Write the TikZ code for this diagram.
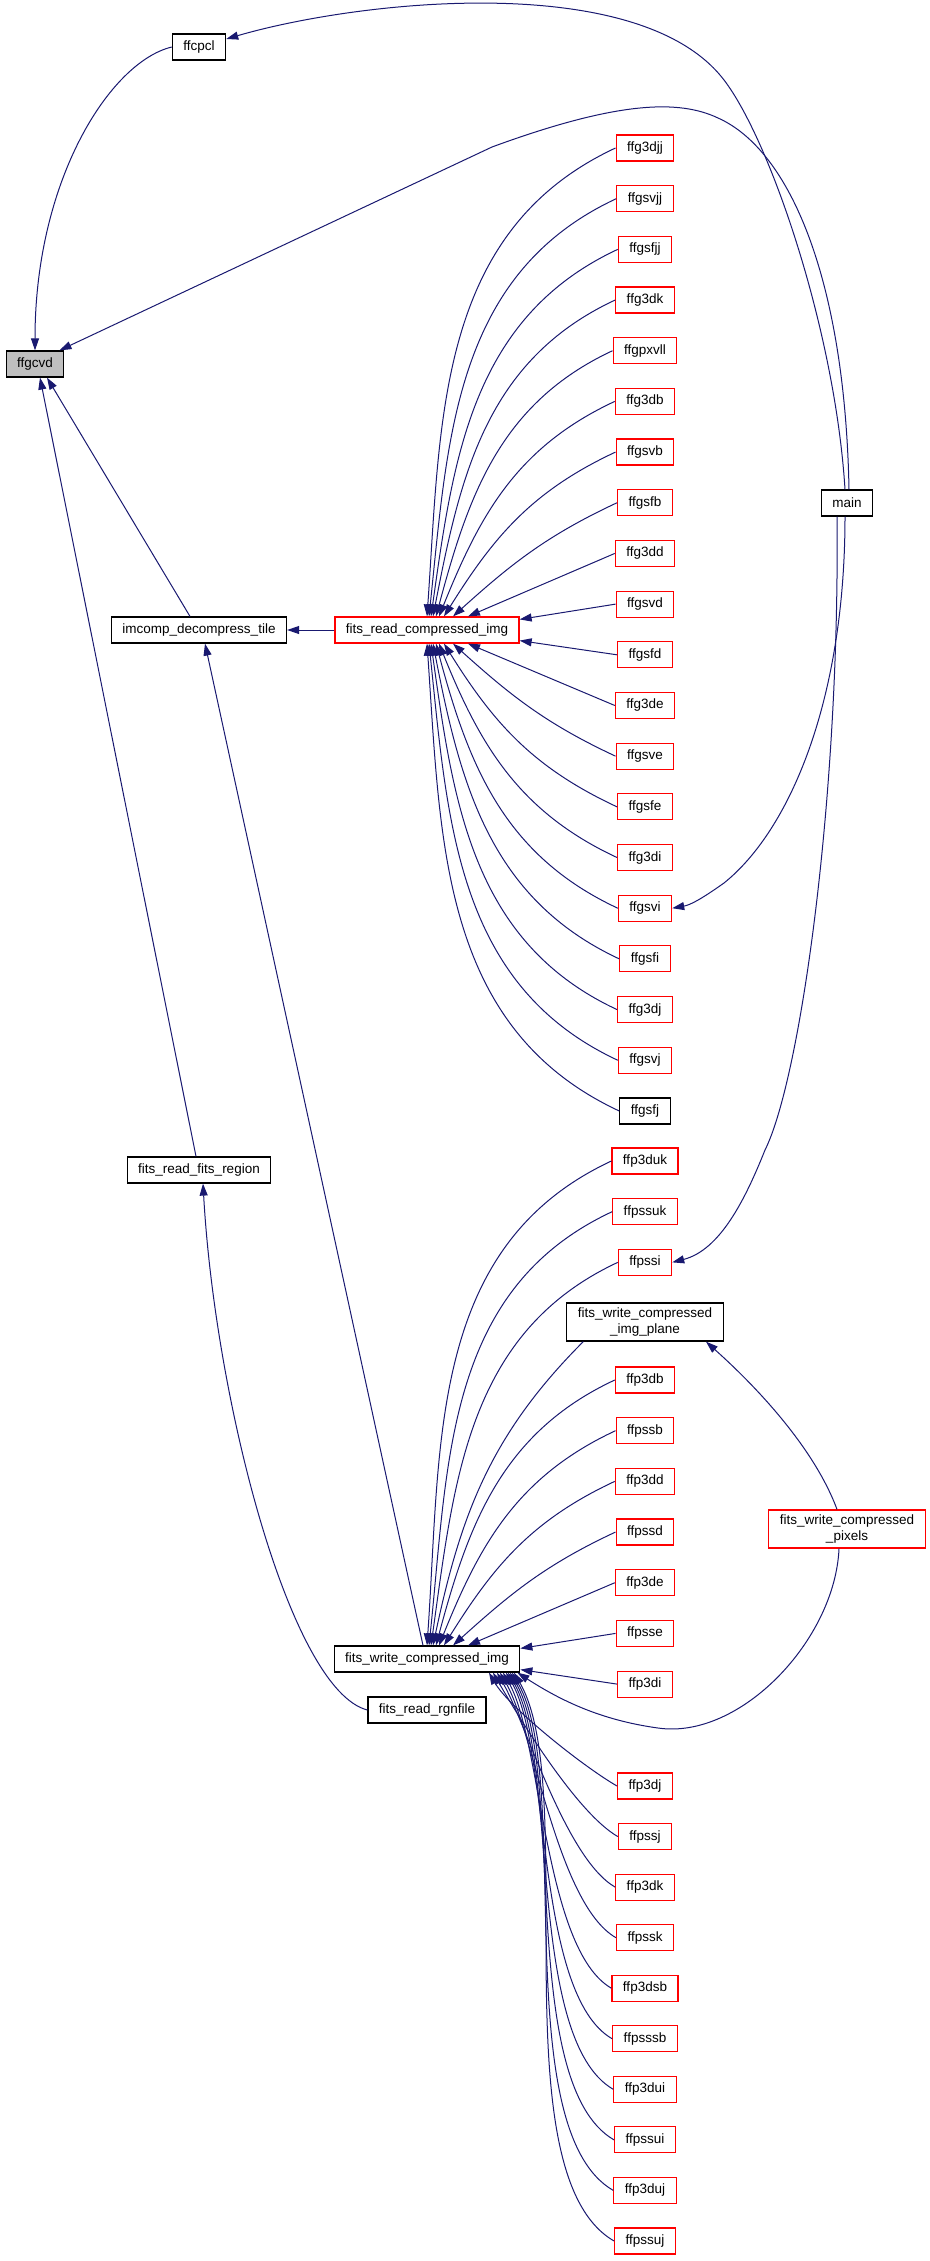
\documentclass[tikz,border=0pt]{standalone}
\usepackage{fontspec}
\setmainfont{Liberation Sans}
\usetikzlibrary{arrows.meta}
\definecolor{edgeblue}{HTML}{191970}

\begin{document}
\begin{tikzpicture}[x = 1pt, y = 1pt,
    fn/.style = {shape = rectangle, draw, line width = 1.2pt, fill = white, inner xsep = 11pt, inner ysep = 5pt,
        minimum height = 26pt, align = center, font = \fontsize{13.5}{15.5}\selectfont},
    fnred/.style = {fn, draw = red},
    call/.style = {draw = edgeblue, line width = 1pt, -{Triangle[length = 12pt, width = 8pt]}}]
    \useasboundingbox (0,0) rectangle (929,-2261);

    \node [fn, fill = gray!50] (ffgcvd) at (35,-364) {ffgcvd};
    \node [fn] (ffcpcl) at (199,-47) {ffcpcl};
    \node [fn] (main) at (847,-503) {main};
    \node [fn] (decomptile) at (199,-630) {imcomp\_decompress\_tile};
    \node [fnred] (readimg) at (427,-630) {fits\_read\_compressed\_img};
    \node [fn] (readregion) at (199,-1170) {fits\_read\_fits\_region};
    \node [fn] (writeimg) at (427,-1659) {fits\_write\_compressed\_img};
    \node [fn] (rgnfile) at (427,-1710) {fits\_read\_rgnfile};
    \node [fn] (imgplane) at (645,-1322) {fits\_write\_compressed\\\_img\_plane};
    \node [fnred] (pixels) at (847,-1529) {fits\_write\_compressed\\\_pixels};

    \foreach \nm [count = \i from 0] in {ffg3djj,ffgsvjj,ffgsfjj,ffg3dk,ffgpxvll,ffg3db,ffgsvb,ffgsfb,ffg3dd,ffgsvd,
            ffgsfd,ffg3de,ffgsve,ffgsfe,ffg3di,ffgsvi,ffgsfi,ffg3dj,ffgsvj}
        \node [fnred] (\nm) at (645,{-148-50.68*\i}) {\nm};
    \node [fn] (ffgsfj) at (645,-1111) {ffgsfj};
    \foreach \nm [count = \i from 0] in {ffp3duk,ffpssuk,ffpssi}
        \node [fnred] (\nm) at (645,{-1161-50.68*\i}) {\nm};
    \foreach \nm [count = \i from 0] in {ffp3db,ffpssb,ffp3dd,ffpssd,ffp3de,ffpsse,ffp3di}
        \node [fnred] (\nm) at (645,{-1380-50.68*\i}) {\nm};
    \foreach \nm [count = \i from 0] in {ffp3dj,ffpssj,ffp3dk,ffpssk,ffp3dsb,ffpsssb,ffp3dui,ffpssui,ffp3duj,ffpssuj}
        \node [fnred] (\nm) at (645,{-1786-50.55*\i}) {\nm};

    \draw [call] (ffcpcl.west) .. controls (110,-62) and (35,-180) .. (ffgcvd.north);
    \draw [call] ([xshift=-2]main.north) .. controls (835,-330) and (770,-140) .. (724,-80)
        .. controls (640,30) and (360,0) .. ([yshift=8]ffcpcl.east);
    \draw [call] ([xshift=2]main.north) .. controls (845,-280) and (790,-150) .. (718,-118)
        .. controls (680,-100) and (620,-100) .. (492,-147) -- ([xshift=-5]ffgcvd.north east);
    \draw [call] ([xshift=-9]decomptile.north) -- ([xshift=12]ffgcvd.south);
    \draw [call] ([xshift=-3]readregion.north) -- ([xshift=5]ffgcvd.south);
    \draw [call] (readimg.west) -- (decomptile.east);
    \draw [call] ([xshift=-4]writeimg.north) -- ([xshift=6]decomptile.south);
    \draw [call] (rgnfile.west) .. controls (290,-1690) and (215,-1400) .. ([xshift=4]readregion.south);

    \foreach \nm/\dx/\ang in {ffg3djj/0/86,ffgsvjj/2/84,ffgsfjj/4/82,ffg3dk/6/79,ffgpxvll/9/75,ffg3db/12/68,
            ffgsvb/17/58,ffgsfb/26/42}
        \draw [call] (\nm.west) to[out=205, in=\ang] ([xshift=\dx]readimg.north);
    \draw [call] (ffg3dd.west) -- ([xshift=41]readimg.north);
    \draw [call] (ffgsvd.west) -- ([yshift=-3]readimg.north east);
    \draw [call] (ffgsfd.west) -- ([yshift=3]readimg.south east);
    \draw [call] (ffg3de.west) -- ([xshift=41]readimg.south);
    \foreach \nm/\dx/\ang in {ffgsve/26/-42,ffgsfe/17/-58,ffg3di/12/-68,ffgsvi/9/-75,ffgsfi/6/-79,ffg3dj/4/-82,
            ffgsvj/2/-84,ffgsfj/0/-86}
        \draw [call] (\nm.west) to[out=155, in=\ang] ([xshift=\dx]readimg.south);

    \foreach \nm/\dx/\ang in {ffp3duk/0/86,ffpssuk/2/84,ffpssi/4/82}
        \draw [call] (\nm.west) to[out=205, in=\ang] ([xshift=\dx]writeimg.north);
    \draw [call] ([xshift=17]imgplane.south west) to[out=225, in=78] ([xshift=6]writeimg.north);
    \foreach \nm/\dx/\ang in {ffp3db/9/75,ffpssb/12/68,ffp3dd/17/58,ffpssd/26/42}
        \draw [call] (\nm.west) to[out=205, in=\ang] ([xshift=\dx]writeimg.north);
    \draw [call] (ffp3de.west) -- ([xshift=41]writeimg.north);
    \draw [call] (ffpsse.west) -- ([yshift=-3]writeimg.north east);
    \draw [call] (ffp3di.west) -- ([yshift=3]writeimg.south east);
    \foreach \nm/\dx in {ffp3dj/62,ffpssj/66,ffp3dk/70,ffpssk/73,ffp3dsb/76,ffpsssb/79,ffp3dui/81,ffpssui/83,
            ffp3duj/85,ffpssuj/87}
        \draw [call] (\nm.west) to[out=150, in=-60, looseness=0.6] ([xshift=\dx]writeimg.south);
    \draw [call] ([xshift=-8]pixels.south) .. controls (835,-1640) and (740,-1740) .. (658,-1728)
        .. controls (600,-1720) and (560,-1700) .. ([xshift=-3]writeimg.south east);
    \draw [call] ([xshift=-10]pixels.north) .. controls (815,-1450) and (760,-1390) .. ([xshift=61]imgplane.south);

    \draw [call] ([xshift=-2]main.south) .. controls (845,-700) and (790,-830) .. (724,-883)
        .. controls (700,-900) and (690,-905) .. (ffgsvi.east);
    \draw [call] ([xshift=-10]main.south) .. controls (840,-800) and (800,-1080) .. (765,-1150)
        .. controls (745,-1200) and (720,-1250) .. (ffpssi.east);
\end{tikzpicture}
\end{document}
